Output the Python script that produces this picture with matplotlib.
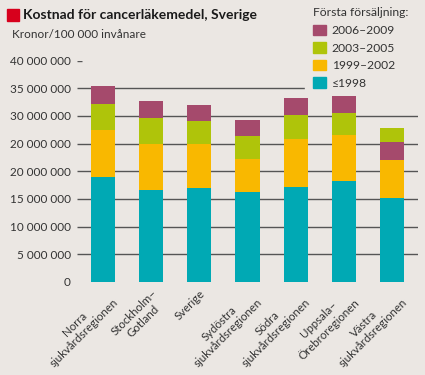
import matplotlib
matplotlib.use("Agg")
import matplotlib.pyplot as plt
from matplotlib.patches import Rectangle, Patch
import numpy as np

plt.rcParams['font.family'] = ['Lato', 'DejaVu Sans']

# data (kronor per 100 000 invånare)
regions = ["Norra\nsjukvårdsregionen", "Stockholm–\nGotland", "Sverige",
           "Sydöstra\nsjukvårdsregionen", "Södra\nsjukvårdsregionen",
           "Uppsala–\nÖrebroregionen", "Västra\nsjukvårdsregionen"]
v_1998 = [18.9e6, 16.6e6, 17.0e6, 16.2e6, 17.1e6, 18.2e6, 15.2e6]
v_1999_2002 = [8.5e6, 8.4e6, 7.9e6, 6.1e6, 8.7e6, 8.3e6, 6.8e6]
v_2003_2005 = [4.7e6, 4.6e6, 4.1e6, 4.0e6, 4.4e6, 4.1e6, 2.5e6]
v_2006_2009 = [3.3e6, 3.1e6, 3.0e6, 2.9e6, 3.0e6, 3.0e6, 3.3e6]
series_names = ["≤1998", "1999–2002", "2003–2005", "2006–2009"]
# Västra has the 2006-2009 block below 2003-2005 in the original
stack_order = [[0, 1, 2, 3]] * 6 + [[0, 1, 3, 2]]

ytick_vals = [0, 5e6, 10e6, 15e6, 20e6, 25e6, 30e6, 35e6, 40e6]
ytick_labels = ["0", "5 000 000", "10 000 000", "15 000 000", "20 000 000",
                "20 000 000", "30 000 000", "35 000 000", "40 000 000"]

bg = "#ebe7e3"
colors = ["#00a9b4", "#f9b800", "#afc40a", "#a54a6c"]
txt = "#333333"

fig = plt.figure(figsize=(4.25, 3.75), dpi=100, facecolor=bg)
ax = fig.add_axes([77 / 425, 1 - 282 / 375, (418 - 77) / 425, (282 - 60.5) / 375])
ax.set_facecolor(bg)

# gridlines (no line at 0, only a short dash at 40 000 000)
ax.hlines(ytick_vals[1:-1], 0, 1, transform=ax.get_yaxis_transform(),
          color="#555555", lw=1.0, zorder=1)
ax.hlines(ytick_vals[-1], 0, 0.014, transform=ax.get_yaxis_transform(),
          color="#555555", lw=1.0, zorder=1)

values = np.array([v_1998, v_1999_2002, v_2003_2005, v_2006_2009])
x = np.arange(len(regions))
for i in range(len(regions)):
    bottom = 0
    for s in stack_order[i]:
        ax.bar(x[i], values[s, i], 0.5, bottom=bottom, color=colors[s],
               linewidth=0, zorder=2)
        bottom += values[s, i]

ax.set_xlim(-0.54, 6.54)
ax.set_ylim(0, 40e6)
ax.set_yticks(ytick_vals)
ax.set_yticklabels(ytick_labels)
ax.tick_params(axis="y", length=0, pad=4.5, labelsize=8.5, labelcolor=txt)
ax.set_xticks(x)
ax.set_xticklabels(regions, rotation=45, ha="right", va="top",
                   rotation_mode="anchor", multialignment="center")
ax.tick_params(axis="x", length=0, pad=4, labelsize=8.3, labelcolor=txt)
for s in ax.spines.values():
    s.set_visible(False)

# title block
fig.add_artist(Rectangle((7 / 425, 1 - 21 / 375), 12 / 425, 12 / 375,
                         transform=fig.transFigure, color="#d7001c"))
fig.text(23 / 425, 1 - 15 / 375, "Kostnad för cancerläkemedel, Sverige",
         fontsize=10, fontweight="bold", color="#1a1a1a", va="center")
fig.text(12 / 425, 1 - 34 / 375, "Kronor/100 000 invånare",
         fontsize=8.5, color=txt, va="center")

# legend sits above the gridlines but below the bars
handles = [Patch(color=colors[k]) for k in [3, 2, 1, 0]]
labels = [series_names[k] for k in [3, 2, 1, 0]]
leg = ax.legend(handles, labels, title="Första försäljning:",
                loc="upper left", bbox_to_anchor=(305 / 425, 1 + 1 / 375),
                bbox_transform=fig.transFigure,
                fontsize=8.7, title_fontsize=8.7, alignment="left",
                handlelength=1.0, handleheight=1.0, handletextpad=0.5,
                labelspacing=0.5, borderpad=0.7, borderaxespad=0,
                facecolor=bg, edgecolor=bg, framealpha=1, fancybox=False)
leg.set_zorder(1.5)
leg.set_clip_on(False)
for t in leg.get_texts():
    t.set_color(txt)
leg.get_title().set_color(txt)

fig.savefig("out.png", dpi=100, facecolor=bg)
